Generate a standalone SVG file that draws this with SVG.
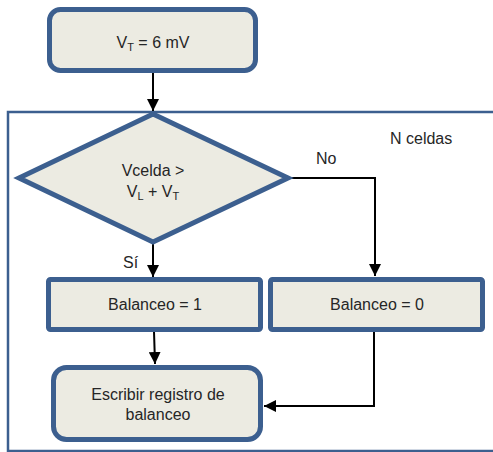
<svg xmlns="http://www.w3.org/2000/svg" width="493" height="452" viewBox="0 0 493 452">
<defs>
<style>
.n{fill:#ecebe2;stroke:#3c5f8f;stroke-width:5}
.t{font-family:"Liberation Sans",Arial,sans-serif;font-size:16px;fill:#262626;text-anchor:middle}
.l{font-family:"Liberation Sans",Arial,sans-serif;font-size:16px;fill:#262626}
.c{fill:none;stroke:#000;stroke-width:2}
</style>
<marker id="a" viewBox="0 0 12 12" refX="12" refY="6" markerWidth="12" markerHeight="12" markerUnits="userSpaceOnUse" orient="auto">
<path d="M0,0 L12,6 L0,12 Z" fill="#000"/>
</marker>
</defs>
<rect x="8" y="112" width="492" height="339" fill="none" stroke="#3c5f8f" stroke-width="2.5"/>
<g id="connectors">
<path class="c" d="M153,72 V111" marker-end="url(#a)"/>
<path class="c" d="M153,243 V277" marker-end="url(#a)"/>
<path class="c" d="M290,178 H375 V276" marker-end="url(#a)"/>
<path class="c" d="M154,331 L155,364" marker-end="url(#a)"/>
<path class="c" d="M374,331 V406 H264" marker-end="url(#a)"/>
</g>
<g id="vt">
<rect class="n" x="49.5" y="9.5" width="206" height="61" rx="11"/>
<text class="t" x="153" y="48">V<tspan font-size="11" dy="3">T</tspan><tspan dy="-3"> = 6 mV</tspan></text>
</g>
<g id="decision">
<polygon class="n" points="153,114 288,178 153,242 19,178"/>
<text class="t" x="153" y="176">Vcelda &gt;</text>
<text class="t" x="153" y="197">V<tspan font-size="11" dy="3">L</tspan><tspan dy="-3"> + V</tspan><tspan font-size="11" dy="3">T</tspan></text>
</g>
<g id="labels">
<text class="l" x="316" y="164">No</text>
<text class="l" x="390" y="144">N celdas</text>
<text class="l" x="123" y="268">Sí</text>
</g>
<g id="bal1">
<rect class="n" x="48.5" y="279.5" width="212" height="50" rx="2"/>
<text class="t" x="155" y="310">Balanceo  = 1</text>
</g>
<g id="bal0">
<rect class="n" x="270.5" y="279.5" width="212" height="50" rx="2"/>
<text class="t" x="377" y="310">Balanceo  = 0</text>
</g>
<g id="escribir">
<rect class="n" x="53.5" y="367.5" width="207" height="72" rx="13"/>
<text class="t" x="158" y="400">Escribir registro de</text>
<text class="t" x="158" y="420">balanceo</text>
</g>
</svg>
